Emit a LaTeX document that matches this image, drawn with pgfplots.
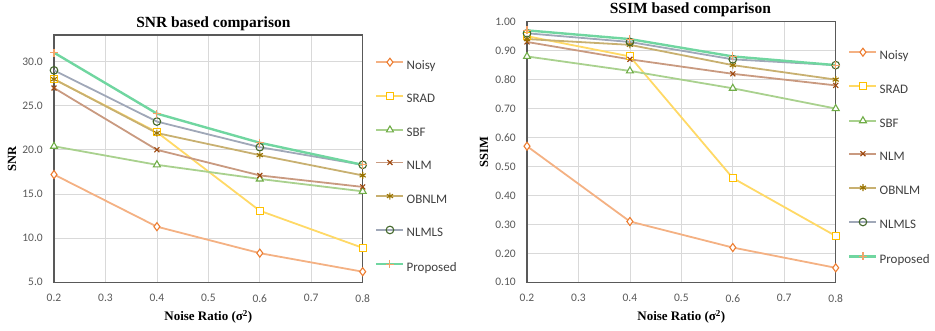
\documentclass[border=0pt]{standalone}
\usepackage{fontspec}
\setmainfont{Liberation Serif}
\newfontfamily\calfont{Carlito}
\usepackage{pgfplots}
\pgfplotsset{compat=1.18}
\definecolor{gridc}{HTML}{D9D9D9}
\definecolor{axc}{HTML}{595959}
\definecolor{tickc}{HTML}{595959}
\definecolor{legc}{HTML}{404040}
\definecolor{noisyL}{HTML}{F4B183}
\definecolor{noisyM}{HTML}{ED7D31}
\definecolor{sradL}{HTML}{FFD966}
\definecolor{sradM}{HTML}{FFC000}
\definecolor{sbfL}{HTML}{A9D18E}
\definecolor{sbfM}{HTML}{70AD47}
\definecolor{nlmL}{HTML}{C99A80}
\definecolor{nlmM}{HTML}{9E480E}
\definecolor{obL}{HTML}{C8B070}
\definecolor{obM}{HTML}{997300}
\definecolor{lsL}{HTML}{A0A8B8}
\definecolor{lsM}{HTML}{43682B}
\definecolor{prL}{HTML}{70D6A0}
\definecolor{prM}{HTML}{F4A46A}
\pgfplotsset{
  mk/.style={mark options={draw=#1, fill=white, line width=1.1pt, solid}},
  every axis title shift=0pt,
  mybase/.style={
    scale only axis, width=308.7pt,
    xmin=0.2, xmax=0.8,
    xtick={0.2,0.3,0.4,0.5,0.6,0.7,0.8},
    grid=major,
    major grid style={color=gridc, line width=0.8pt},
    axis line style={color=axc, line width=1.2pt},
    major tick length=0pt,
    /pgf/number format/assume math mode=true,
    tick label style={font=\calfont\fontsize{11.5}{12}\selectfont, text=tickc, inner sep=0pt},
    x tick label style={/pgf/number format/fixed, /pgf/number format/fixed zerofill, /pgf/number format/precision=1, anchor=north, yshift=-12pt},
    y tick label style={anchor=east, xshift=-11pt},
    title style={font=\bfseries\fontsize{15.5}{17}\selectfont, at={(axis description cs:0.5,1)}, anchor=center},
    xlabel style={font=\bfseries\fontsize{13}{15}\selectfont, at={(axis description cs:0.5,0)}, anchor=center, yshift=-34.5pt},
    ylabel style={font=\bfseries\fontsize{12.5}{14}\selectfont, anchor=center},
    xlabel={Noise Ratio (σ\textsuperscript{2})},
    legend cell align=left,
    legend style={draw=none, fill=none, inner sep=0pt, anchor=north west,
      font=\calfont\fontsize{13}{14}\selectfont, text=legc,
      nodes={inner sep=0pt, text height=9pt, text depth=3pt}, column sep=2pt},
    legend image code/.code={\draw[mark repeat=2,mark phase=2,##1] plot coordinates {(0pt,4pt)(13.5pt,4pt)(27pt,4pt)};},
    every axis plot/.append style={line width=1.8pt},
  }
}
\begin{document}
\begin{tikzpicture}
\useasboundingbox (0,0) rectangle (935pt,331pt);
\begin{axis}[mybase,
  at={(54pt,48.7pt)}, anchor=south west,
  height=247.3pt, ymin=5, ymax=33,
  ytick={5,10,15,20,25,30},
  y tick label style={/pgf/number format/fixed, /pgf/number format/fixed zerofill, /pgf/number format/precision=1},
  title={SNR based comparison}, title style={xshift=5pt, yshift=11pt},
  ylabel={SNR}, ylabel style={at={(axis description cs:-0.136,0.5)}},
  legend style={at={(axis description cs:1.040,0.907)}, row sep=20.1pt},
]
\addplot[color=noisyL, mark=diamond*, mark size=4pt, mk=noisyM] coordinates {(0.2,17.2)(0.4,11.3)(0.6,8.3)(0.8,6.2)};
\addlegendentry{Noisy}
\addplot[color=sradL, mark=square*, mark size=3.5pt, mk=sradM] coordinates {(0.2,28.0)(0.4,22.0)(0.6,13.1)(0.8,8.9)};
\addlegendentry{SRAD}
\addplot[color=sbfL, mark=triangle*, mark size=4pt, mk=sbfM] coordinates {(0.2,20.4)(0.4,18.3)(0.6,16.7)(0.8,15.3)};
\addlegendentry{SBF}
\addplot[color=nlmL, mark=x, mark size=3.5pt, mk=nlmM] coordinates {(0.2,27.0)(0.4,20.0)(0.6,17.1)(0.8,15.8)};
\addlegendentry{NLM}
\addplot[color=obL, mark=asterisk, mark size=3.5pt, mk=obM] coordinates {(0.2,28.0)(0.4,21.9)(0.6,19.4)(0.8,17.1)};
\addlegendentry{OBNLM}
\addplot[color=lsL, mark=o, mark size=3.8pt, mk=lsM] coordinates {(0.2,29.0)(0.4,23.2)(0.6,20.3)(0.8,18.3)};
\addlegendentry{NLMLS}
\addplot[color=prL, line width=2.4pt, mark=+, mark size=4pt, mk=prM] coordinates {(0.2,31.0)(0.4,24.1)(0.6,20.8)(0.8,18.3)};
\addlegendentry{Proposed}
\end{axis}
\begin{axis}[mybase,
  at={(527pt,48.7pt)}, anchor=south west,
  height=260.6pt, ymin=0.1, ymax=1.0,
  ytick={0.1,0.2,0.3,0.4,0.5,0.6,0.7,0.8,0.9,1.0},
  y tick label style={/pgf/number format/fixed, /pgf/number format/fixed zerofill, /pgf/number format/precision=2},
  title={SSIM based comparison}, title style={xshift=9pt, yshift=11.5pt},
  ylabel={SSIM}, ylabel style={at={(axis description cs:-0.139,0.5)}},
  legend style={at={(axis description cs:1.040,0.899)}, row sep=20.5pt},
]
\addplot[color=noisyL, mark=diamond*, mark size=4pt, mk=noisyM] coordinates {(0.2,0.57)(0.4,0.31)(0.6,0.22)(0.8,0.15)};
\addlegendentry{Noisy}
\addplot[color=sradL, mark=square*, mark size=3.5pt, mk=sradM] coordinates {(0.2,0.95)(0.4,0.88)(0.6,0.46)(0.8,0.26)};
\addlegendentry{SRAD}
\addplot[color=sbfL, mark=triangle*, mark size=4pt, mk=sbfM] coordinates {(0.2,0.88)(0.4,0.83)(0.6,0.77)(0.8,0.70)};
\addlegendentry{SBF}
\addplot[color=nlmL, mark=x, mark size=3.5pt, mk=nlmM] coordinates {(0.2,0.93)(0.4,0.87)(0.6,0.82)(0.8,0.78)};
\addlegendentry{NLM}
\addplot[color=obL, mark=asterisk, mark size=3.5pt, mk=obM] coordinates {(0.2,0.94)(0.4,0.92)(0.6,0.85)(0.8,0.80)};
\addlegendentry{OBNLM}
\addplot[color=lsL, mark=o, mark size=3.8pt, mk=lsM] coordinates {(0.2,0.96)(0.4,0.93)(0.6,0.87)(0.8,0.85)};
\addlegendentry{NLMLS}
\addplot[color=prL, line width=2.4pt, mark=+, mark size=4pt, mk=prM] coordinates {(0.2,0.97)(0.4,0.94)(0.6,0.88)(0.8,0.85)};
\addlegendentry{Proposed}
\end{axis}
\end{tikzpicture}
\end{document}
